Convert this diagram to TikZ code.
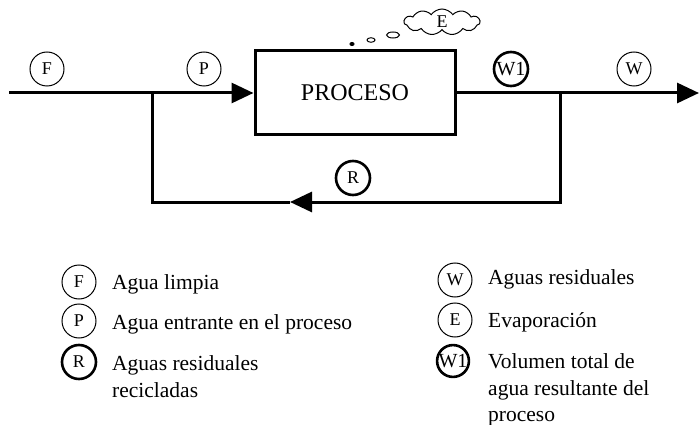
\documentclass[tikz,border=0pt]{standalone}
\usepackage{fontspec}
\setmainfont{Liberation Serif}
\usetikzlibrary{arrows.meta,shapes.symbols,shapes.geometric}
\tikzset{
  flow/.style={line width=3pt},
  tip/.style={-{Triangle[length=22pt,width=20pt]}},
  tag/.style={circle,draw,line width=1pt,minimum size=34pt,inner sep=0pt,font=\fontsize{18}{18}\selectfont},
  tagthick/.style={tag,line width=2.6pt},
  legtext/.style={anchor=base west,inner sep=0pt,font=\fontsize{21.5}{27}\selectfont},
  bubble/.style={ellipse,draw,line width=1pt,inner sep=0pt}
}
\begin{document}
\begin{tikzpicture}[x=1pt,y=-1pt]
\useasboundingbox (0,0) rectangle (699,425);
% process box
\node[draw,line width=3pt,minimum width=200pt,minimum height=84pt,inner sep=0pt,font=\fontsize{24}{24}\selectfont] (proc) at (355,93) {PROCESO};
% coordinates
\coordinate (in) at (9,93);
\coordinate (j1) at (152,93);
\coordinate (j2) at (560,93);
\coordinate (out) at (699,93);
\coordinate (b2) at (560,202);
\coordinate (ba) at (290,202);
\coordinate (b1) at (152,202);
% flows
\draw[flow,tip] (in) -- (j1) -- (proc.west);
\draw[flow,tip] (proc.east) -- (j2) -- (out);
\draw[flow,line join=miter,tip] (j2) -- (b2) -- (ba);
\draw[flow,line join=miter] (ba) -- (b1) -- (j1);
% tags on diagram
\node[tag] (tF) at (47,69) {F};
\node[tag] (tP) at (204,69) {P};
\node[tagthick,font=\fontsize{20}{20}\selectfont] (tW1) at (511,69) {W1};
\node[tag] (tW) at (634,69) {W};
\node[tagthick] (tR) at (353,178) {R};
% evaporation cloud
\node[cloud,draw,line width=1pt,cloud puffs=11,cloud puff arc=110,aspect=3,minimum width=76pt,minimum height=26pt,inner sep=0pt,font=\fontsize{18}{18}\selectfont] (cE) at (442,22) {E};
\node[bubble,minimum width=13pt,minimum height=6pt] (bu1) at (393,35) {};
\node[bubble,minimum width=8pt,minimum height=4.5pt] (bu2) at (371,40) {};
\node[bubble,fill,minimum width=4pt,minimum height=3pt] (bu3) at (352,44) {};
% legend left
\node[tag] (lF) at (79,282) {F};
\node[legtext] (lFt) at (112,289) {Agua limpia};
\node[tag] (lP) at (79,321) {P};
\node[legtext] (lPt) at (112,329) {Agua entrante en el proceso};
\node[tagthick] (lR) at (79,362) {R};
\node[legtext] (lRt1) at (112,370) {Aguas residuales};
\node[legtext] (lRt2) at (112,397) {recicladas};
% legend right
\node[tag] (lW) at (455,280) {W};
\node[legtext] (lWt) at (488,284) {Aguas residuales};
\node[tag] (lE) at (455,320) {E};
\node[legtext] (lEt) at (488,327) {Evaporación};
\node[tagthick,minimum size=31pt,font=\fontsize{20}{20}\selectfont] (lW1) at (453,361) {W1};
\node[legtext] (lW1t1) at (488,368) {Volumen total de};
\node[legtext] (lW1t2) at (488,395) {agua resultante del};
\node[legtext] (lW1t3) at (488,421) {proceso};
\end{tikzpicture}
\end{document}
